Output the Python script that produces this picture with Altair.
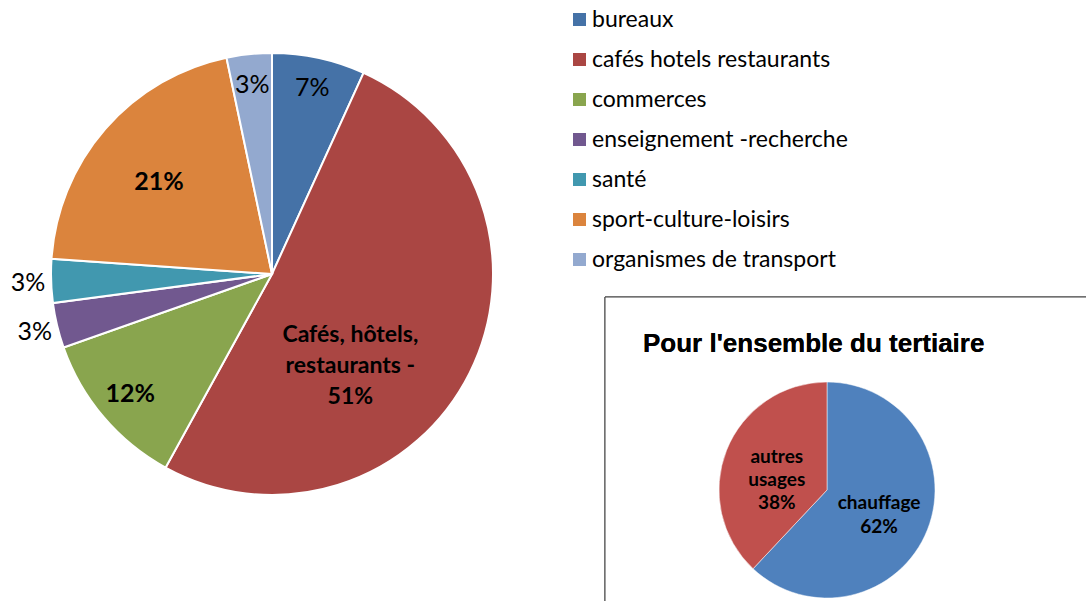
import altair as alt
import pandas as pd

# ---- main pie data ----
categories = ["bureaux", "cafés hotels restaurants", "commerces",
              "enseignement -recherche", "santé", "sport-culture-loisirs",
              "organismes de transport"]
shares = [6.8, 51.2, 11.6, 3.3, 3.2, 20.6, 3.3]
slice_labels = ["7%", "Cafés, hôtels,\nrestaurants -\n51%", "12%", "3%", "3%", "21%", "3%"]
colors = ["#4572A7", "#AA4643", "#89A54E", "#71588F", "#4198AF", "#DB843D", "#93A9CF"]

# ---- inset pie data ----
inset_categories = ["chauffage", "autres usages"]
inset_shares = [62, 38]
inset_labels = ["chauffage\n62%", "autres\nusages\n38%"]
inset_colors = ["#4F81BD", "#C0504D"]
inset_title = "Pour l'ensemble du tertiaire"

main = pd.DataFrame({"cat": categories, "val": shares, "lab": slice_labels,
                     "ord": list(range(len(categories)))})
inset = pd.DataFrame({"cat": inset_categories, "val": inset_shares, "lab": inset_labels,
                      "ord": list(range(len(inset_categories)))})

FONT = "Lato"
CX, CY, R = 272, 274, 221
ICX, ICY, IR = 827, 490, 108

base = alt.Chart(main).encode(
    theta=alt.Theta("val:Q", stack=True),
    order=alt.Order("ord:Q"),
    detail="cat:N",
)

arcs = base.mark_arc(outerRadius=R, stroke="white", strokeWidth=2).encode(
    x=alt.value(CX), y=alt.value(CY),
    color=alt.Color(
        "cat:N",
        scale=alt.Scale(domain=categories, range=colors),
        legend=alt.Legend(
            title=None, orient="none", legendX=568, legendY=8,
            symbolType="square", symbolSize=169, symbolStrokeWidth=0,
            labelFont=FONT, labelFontSize=23, labelColor="#000000",
            rowPadding=16, labelOffset=1, labelLimit=400,
        ),
    ),
)


def label_layer(b, cx, cy, cats, radius, size, weight, dx=0, dy=0, line_height=None):
    expr = "indexof(" + str(cats) + ", datum.cat) >= 0 ? datum.lab : ''"
    kw = dict(radius=radius, font=FONT, fontSize=size, fontWeight=weight,
              color="black", lineBreak="\n", dx=dx, dy=dy)
    if line_height:
        kw["lineHeight"] = line_height
    return b.transform_calculate(t=expr).mark_text(**kw).encode(
        x=alt.value(cx), y=alt.value(cy), text="t:N")


lab_plain_in = label_layer(base, CX, CY, ["bureaux", "organismes de transport"], 190, 25, "normal")
lab_bold_in = label_layer(base, CX, CY, ["commerces"], 186, 25, "bold")
lab_sport = label_layer(base, CX, CY, ["sport-culture-loisirs"], 146, 25, "bold", dx=-3, dy=4)
lab_out = label_layer(base, CX, CY, ["enseignement -recherche", "santé"], 244, 25, "normal",
                      dy=1)
lab_cafes = label_layer(base, CX, CY, ["cafés hotels restaurants"], 119, 23, "bold",
                        dx=-28, dy=8, line_height=31)

# ---- inset ----
box = alt.Chart(inset).mark_rect(fill="white", stroke="#404040", strokeWidth=1).encode(
    x=alt.value(605), x2=alt.value(1100), y=alt.value(297), y2=alt.value(620))

title = alt.Chart(inset).mark_text(
    font="Liberation Sans", fontSize=26, fontWeight="bold", align="left",
    baseline="alphabetic", color="black").encode(
    x=alt.value(643), y=alt.value(352), text=alt.value(inset_title))

ibase = alt.Chart(inset).encode(
    theta=alt.Theta("val:Q", stack=True),
    order=alt.Order("ord:Q"),
    detail="cat:N",
)
iarcs = ibase.mark_arc(outerRadius=IR, stroke="white", strokeWidth=0.5).encode(
    x=alt.value(ICX), y=alt.value(ICY),
    color=alt.Color("cat:N", scale=alt.Scale(domain=inset_categories, range=inset_colors),
                    legend=None),
)
ilab_ch = label_layer(ibase, ICX, ICY, ["chauffage"], 56, 19, "bold", dy=-8, line_height=24)
ilab_au = label_layer(ibase, ICX, ICY, ["autres usages"], 54, 19, "bold", dy=-13,
                      line_height=23)

chart = alt.layer(
    arcs, lab_plain_in, lab_bold_in, lab_sport, lab_out, lab_cafes,
    box, title, iarcs, ilab_ch, ilab_au,
).resolve_scale(color="independent", theta="independent").properties(
    width=1086, height=601, padding=0, autosize=alt.AutoSizeParams(type="none"),
    background="white",
).configure_view(stroke=None)

chart.save("out.html", embed_options={"renderer": "svg", "actions": False})
